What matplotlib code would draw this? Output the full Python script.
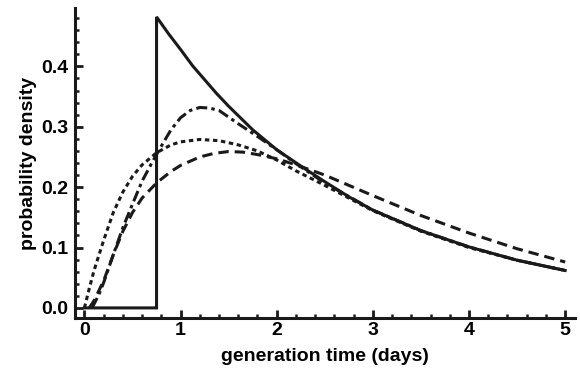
import matplotlib
matplotlib.use('Agg')
import matplotlib.pyplot as plt
from matplotlib.ticker import MultipleLocator, FormatStrFormatter

plt.rcParams['font.family'] = ['Liberation Sans', 'DejaVu Sans']
plt.rcParams['font.weight'] = 'bold'
plt.rcParams['lines.scale_dashes'] = False

# shifted exponential (solid)
solid_x = [0.0, 0.75, 0.75, 0.875, 1.0, 1.125, 1.25, 1.375, 1.5, 1.75, 2.0, 2.25, 2.5, 2.75, 3.0, 3.5, 4.0, 4.5, 5.0]
solid_y = [0.0, 0.0, 0.482, 0.454, 0.428, 0.401, 0.378, 0.355, 0.334, 0.295, 0.262, 0.235, 0.209, 0.184, 0.162, 0.128, 0.101, 0.079, 0.062]

# long dashes
dash_x = [0.05, 0.1, 0.2, 0.3, 0.4, 0.5, 0.6, 0.75, 0.9, 1.0, 1.2, 1.35, 1.5, 1.65, 1.8, 2.0, 2.2, 2.5, 3.0, 3.5, 4.0, 4.5, 5.0]
dash_y = [0.0, 0.012, 0.045, 0.088, 0.127, 0.158, 0.182, 0.207, 0.226, 0.236, 0.25, 0.256, 0.259, 0.258, 0.254, 0.247, 0.237, 0.220, 0.186, 0.153, 0.124, 0.098, 0.076]

# dash-dot
dashdot_x = [0.08, 0.15, 0.2, 0.3, 0.4, 0.5, 0.6, 0.7, 0.8, 0.9, 1.0, 1.1, 1.2, 1.3, 1.4, 1.6, 1.8, 2.0, 2.2, 2.5, 3.0, 3.5, 4.0, 4.5, 5.0]
dashdot_y = [0.0, 0.022, 0.042, 0.088, 0.133, 0.172, 0.21, 0.24, 0.268, 0.295, 0.315, 0.327, 0.332, 0.331, 0.327, 0.305, 0.284, 0.262, 0.239, 0.207, 0.162, 0.128, 0.101, 0.079, 0.062]

# short dashes
dot_x = [0.0, 0.05, 0.1, 0.2, 0.3, 0.4, 0.5, 0.6, 0.75, 0.9, 1.0, 1.2, 1.4, 1.6, 1.8, 2.0, 2.2, 2.5, 3.0, 3.5, 4.0, 4.5, 5.0]
dot_y = [0.0, 0.032, 0.062, 0.112, 0.158, 0.192, 0.218, 0.237, 0.257, 0.27, 0.275, 0.279, 0.277, 0.27, 0.26, 0.245, 0.227, 0.203, 0.161, 0.127, 0.100, 0.079, 0.062]

fig = plt.figure(figsize=(5.8, 3.73), dpi=100)
ax = fig.add_axes([0.129, 0.147, 0.862, 0.832])

lw = 2.2
ax.plot(dash_x, dash_y, color='#1a1a1a', lw=lw, ls=(0, (7.5, 4.3)), dash_capstyle='butt')
ax.plot(dashdot_x, dashdot_y, color='#1a1a1a', lw=lw, ls=(0, (8, 3, 2.5, 3)), dash_capstyle='butt')
ax.plot(dot_x, dot_y, color='#1a1a1a', lw=lw, ls=(0, (3.2, 2.6)), dash_capstyle='butt')
ax.plot(solid_x, solid_y, color='#1a1a1a', lw=lw, solid_joinstyle='miter')

ax.set_xlim(-0.1, 5.1)
ax.set_ylim(-0.017, 0.497)

for s in ['top', 'right']:
    ax.spines[s].set_visible(False)
for s in ['left', 'bottom']:
    ax.spines[s].set_linewidth(2.2)
    ax.spines[s].set_color('#1a1a1a')

ax.xaxis.set_major_locator(MultipleLocator(1))
ax.xaxis.set_minor_locator(MultipleLocator(0.2))
ax.yaxis.set_major_locator(MultipleLocator(0.1))
ax.yaxis.set_minor_locator(MultipleLocator(0.02))
ax.yaxis.set_major_formatter(FormatStrFormatter('%.1f'))

ax.tick_params(which='major', direction='in', length=5.5, width=2, labelsize=14, color='#1a1a1a')
ax.tick_params(which='minor', direction='in', length=3, width=1.8, color='#1a1a1a')
ax.tick_params(axis='x', pad=3)
ax.tick_params(axis='y', pad=5)

ax.set_xlabel('generation time (days)', fontsize=14, fontweight='bold', labelpad=6)
ax.set_ylabel('probability density', fontsize=14, fontweight='bold', labelpad=3)

fig.savefig('out.png', dpi=100)
